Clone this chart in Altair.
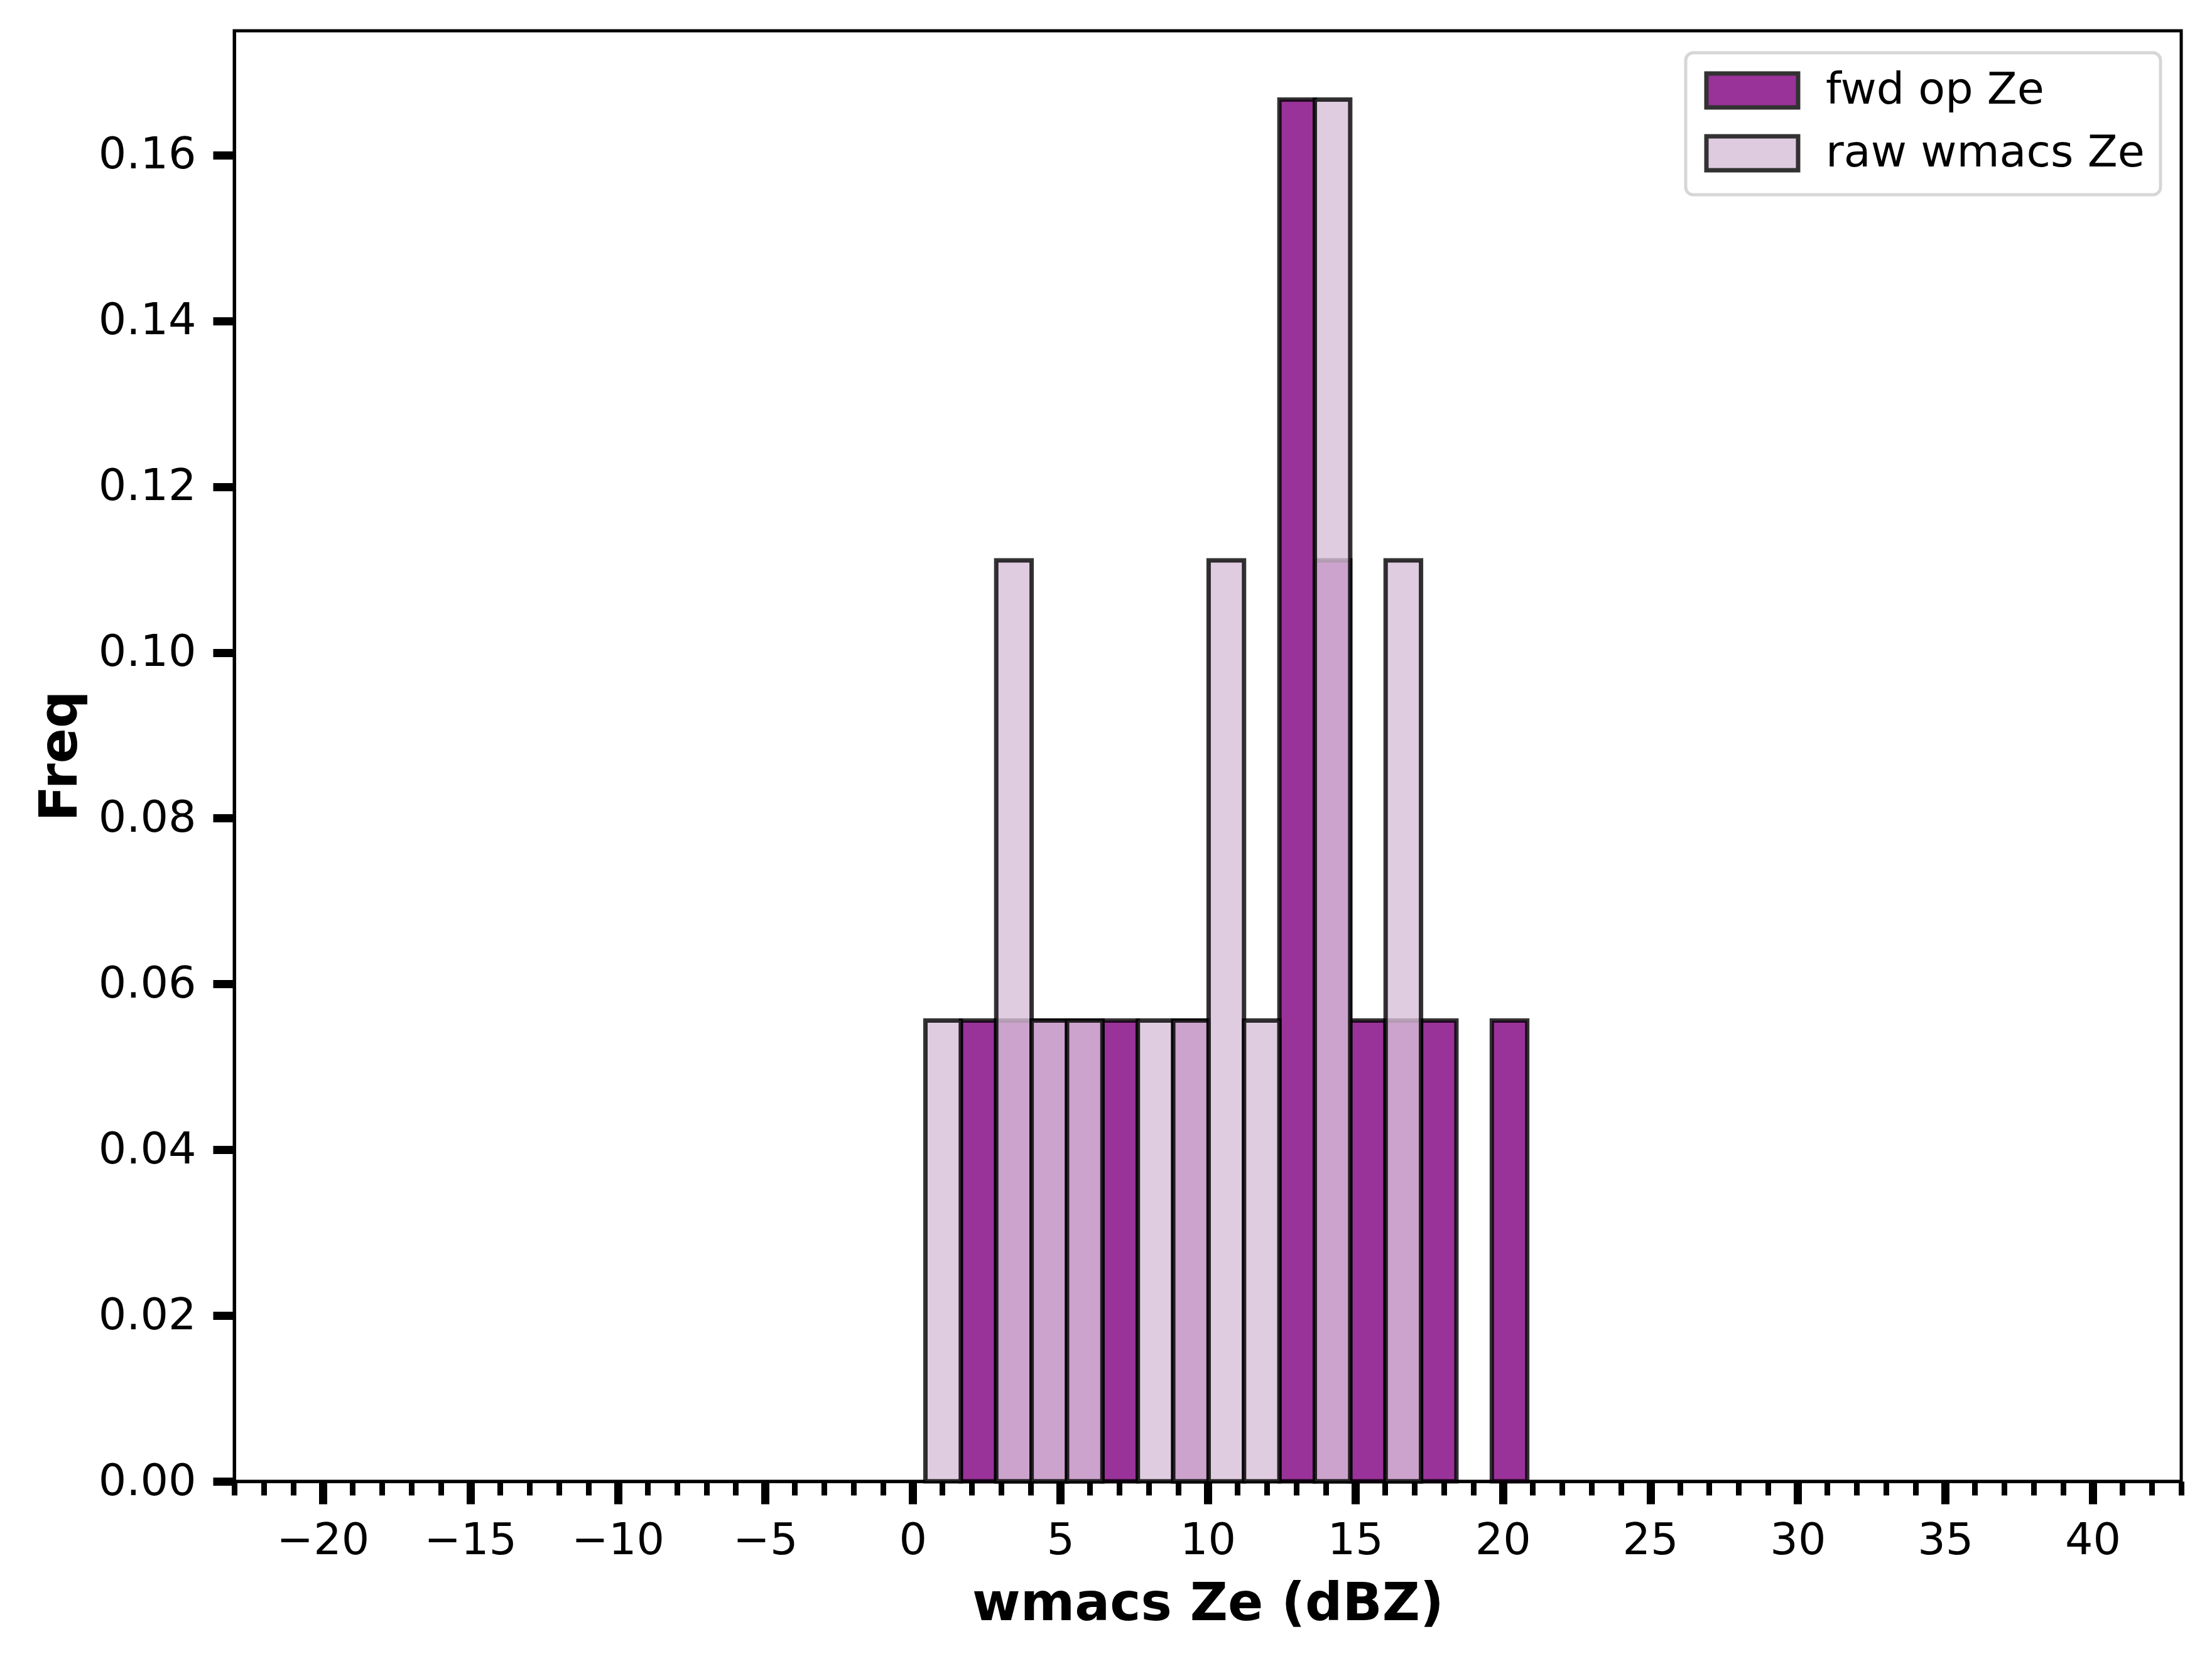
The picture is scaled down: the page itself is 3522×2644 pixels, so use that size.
import altair as alt
import pandas as pd

# ---- data ----
bin_edges = [0.43, 1.63, 2.83, 4.03, 5.23, 6.43, 7.63, 8.83, 10.03, 11.23,
             12.43, 13.63, 14.83, 16.03, 17.23, 18.43, 19.63, 20.83]
fwd_freq = [0.0, 0.0556, 0.0556, 0.0556, 0.0556, 0.0556, 0.0, 0.0556, 0.0,
            0.0, 0.1667, 0.1111, 0.0556, 0.0556, 0.0556, 0.0, 0.0556]
raw_freq = [0.0556, 0.0, 0.1111, 0.0556, 0.0556, 0.0, 0.0556, 0.0556, 0.1111,
            0.0556, 0.0, 0.1667, 0.0, 0.1111, 0.0, 0.0, 0.0]
series_names = ["fwd op Ze", "raw wmacs Ze"]
series_colors = ["#800080", "#d8bfd8"]
x_major_ticks = [-20, -15, -10, -5, 0, 5, 10, 15, 20, 25, 30, 35, 40]
x_minor_ticks = list(range(-23, 44))
y_ticks = [0.0, 0.02, 0.04, 0.06, 0.08, 0.10, 0.12, 0.14, 0.16]

rows = []
for name, freqs in zip(series_names, [fwd_freq, raw_freq]):
    for i, f in enumerate(freqs):
        if f > 0:
            rows.append({"series": name, "start": bin_edges[i],
                         "end": bin_edges[i + 1], "freq": f, "base": 0.0})
df = pd.DataFrame(rows)

FONT = "DejaVu Sans"
x_scale = alt.Scale(domain=[-23, 43], nice=False, zero=False)
y_scale = alt.Scale(domain=[0, 0.175], nice=False, zero=True)
color_scale = alt.Scale(domain=series_names, range=series_colors)

legend = alt.Legend(
    title=None, orient="none", legendX=2311, legendY=35, padding=25,
    fillColor="white", strokeColor="#d6d6d6", cornerRadius=12,
    symbolType="M-1,-1H4.407V1H-1Z", symbolSize=2916,
    symbolStrokeColor="black", symbolStrokeWidth=7, symbolOpacity=0.8,
    labelFont=FONT, labelFontSize=70, labelColor="black", labelLimit=2000,
    labelOffset=128, rowPadding=18,
)

y_axis = alt.Axis(
    values=y_ticks, format=".2f", title="Freq", grid=False,
    tickSize=34, tickWidth=13, tickColor="black",
    domainColor="black", domainWidth=5,
    labelFont=FONT, labelFontSize=70, labelColor="black", labelPadding=27,
    titleFont=FONT, titleFontSize=83, titleFontWeight="bold", titleColor="black",
    titleX=-252, titleY=1154, titleAngle=270, titleBaseline="alphabetic",
    titleAlign="center",
)

x_major_axis = alt.Axis(
    values=x_major_ticks, format="d", title="wmacs Ze (dBZ)", grid=False,
    orient="bottom", tickSize=36, tickWidth=13, tickColor="black",
    domainColor="black", domainWidth=5, labelFlush=False, labelOverlap=False,
    labelFont=FONT, labelFontSize=70, labelColor="black", labelPadding=24,
    titleFont=FONT, titleFontSize=83, titleFontWeight="bold", titleColor="black",
    titleY=220, titleBaseline="alphabetic",
)

x_minor_axis = alt.Axis(
    values=x_minor_ticks, labels=False, title=None, grid=False, domain=False,
    orient="bottom", tickSize=22, tickWidth=9, tickColor="black",
)


def bars(name, axis):
    return alt.Chart(df).transform_filter(
        alt.datum.series == name
    ).mark_rect(
        stroke="black", strokeWidth=7, fillOpacity=0.8, strokeOpacity=0.8
    ).encode(
        x=alt.X("start:Q", scale=x_scale, axis=axis),
        x2="end:Q",
        y=alt.Y("freq:Q", scale=y_scale, axis=y_axis),
        y2="base:Q",
        color=alt.Color("series:N", scale=color_scale, legend=legend),
    )


chart = alt.layer(
    bars(series_names[0], x_major_axis),
    bars(series_names[1], x_minor_axis),
).resolve_axis(x="independent").properties(
    width=3100, height=2309,
    autosize=alt.AutoSizeParams(type="none"),
    padding={"left": 365, "top": 41, "right": 40, "bottom": 270},
).configure(font=FONT).configure_view(
    stroke="black", strokeWidth=5
).configure_legend(strokeWidth=5)

chart.save("out.html", embed_options={"renderer": "svg", "actions": False})
